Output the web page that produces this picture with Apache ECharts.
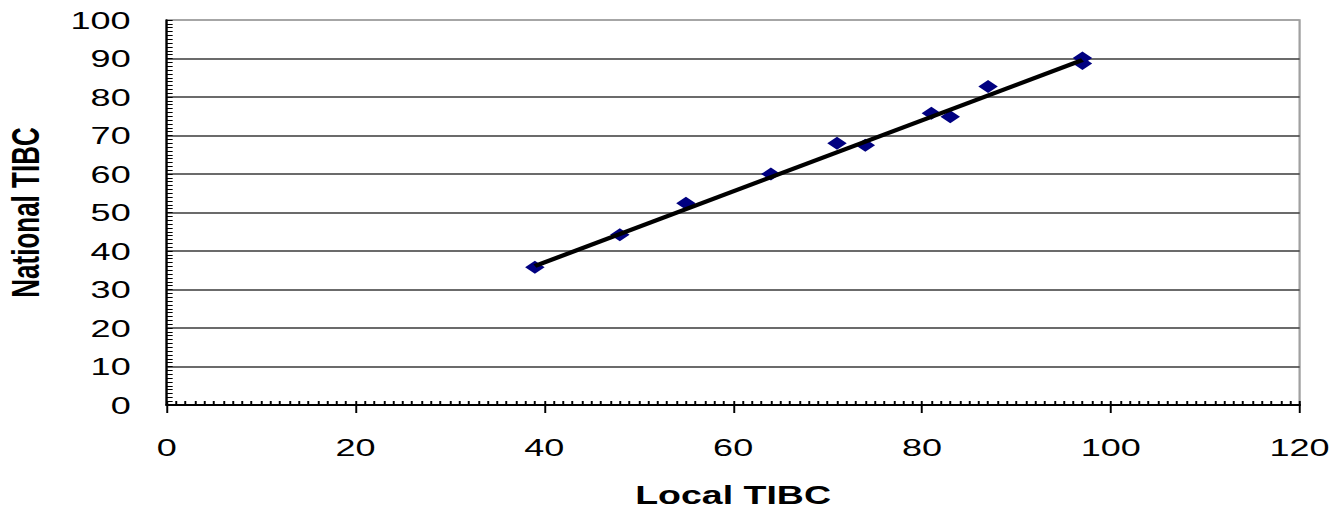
<!DOCTYPE html>
<html><head><meta charset="utf-8">
<script src="https://cdn.jsdelivr.net/npm/echarts@6/dist/echarts.min.js"></script>
<style>
html,body{margin:0;padding:0;background:#fff;overflow:hidden}
#wrap{width:1330px;height:509px;overflow:hidden;position:relative}
#chart{width:887px;height:509px;transform:scaleX(1.5);transform-origin:0 0}
</style></head><body><div id="wrap"><div id="chart"></div></div>
<script>
// Data
const localTIBC    = [39, 48, 55, 64, 71, 74, 81, 83, 87, 97, 97];
const nationalTIBC = [35.8, 44.2, 52.4, 60.0, 68.0, 67.5, 75.8, 74.9, 82.7, 90.1, 88.7];
const trendX = [39, 97];
const trendY = [36.1, 89.6];
const xTickValues = [0, 20, 40, 60, 80, 100, 120];
const yTickValues = [0, 10, 20, 30, 40, 50, 60, 70, 80, 90, 100];
const xTitle = 'Local TIBC';
const yTitle = 'National TIBC';

const points = localTIBC.map((x, i) => [x, nationalTIBC[i]]);
const trend = trendX.map((x, i) => [x, trendY[i]]);
const xMin = xTickValues[0], xMax = xTickValues[xTickValues.length - 1], xInt = xTickValues[1] - xTickValues[0];
const yMin = yTickValues[0], yMax = yTickValues[yTickValues.length - 1], yInt = yTickValues[1] - yTickValues[0];

const gridColors = yTickValues.map((v, i) => i === yTickValues.length - 1 ? '#a0a0a0' : '#3a3a3a');

const chart = echarts.init(document.getElementById('chart'), null, {renderer: 'svg'});
const font = 'Liberation Sans, Arial, sans-serif';
chart.setOption({
  animation: false,
  backgroundColor: '#ffffff',
  grid: {left: 111.1, top: 20, width: 755.3, height: 385, show: true, containLabel: false,
         outerBoundsMode: 'none',
         borderColor: '#a0a0a0', borderWidth: 1.5, backgroundColor: 'transparent'},
  xAxis: [{
    type: 'value', min: xMin, max: xMax, interval: xInt, position: 'bottom',
    name: xTitle, nameLocation: 'middle', nameGap: 78,
    nameTextStyle: {fontFamily: font, fontSize: 25, fontWeight: 'bold', color: '#000'},
    axisLine: {show: true, onZero: false, lineStyle: {color: '#000', width: 2}},
    axisTick: {show: true, inside: false, length: 8, lineStyle: {color: '#000', width: 1.3}},
    minorTick: {show: false},
    axisLabel: {fontFamily: font, fontSize: 24, color: '#000', margin: 30},
    splitLine: {show: false}
  }, {
    type: 'value', min: xMin, max: xMax, interval: xInt, position: 'bottom', gridIndex: 0,
    axisLine: {show: false, onZero: false},
    axisTick: {show: true, inside: true, length: 4, lineStyle: {color: '#000', width: 1.3}},
    minorTick: {show: true, splitNumber: 20, length: 4, lineStyle: {color: '#000', width: 1.3}},
    axisLabel: {show: false},
    splitLine: {show: false}
  }],
  yAxis: {
    type: 'value', min: yMin, max: yMax, interval: yInt,
    name: yTitle, nameLocation: 'middle', nameGap: 81,
    nameTextStyle: {fontFamily: font, fontSize: 26, fontWeight: 'bold', color: '#000'},
    axisLine: {show: true, onZero: false, lineStyle: {color: '#000', width: 1.5}},
    axisTick: {show: true, inside: true, length: 4, lineStyle: {color: '#000', width: 1}},
    minorTick: {show: true, splitNumber: 10, length: 4, lineStyle: {color: '#000', width: 1}},
    axisLabel: {fontFamily: font, fontSize: 24, color: '#000', margin: 24},
    splitLine: {show: true, lineStyle: {color: gridColors, width: 1.5}}
  },
  series: [{
    type: 'scatter', data: points, symbol: 'diamond', symbolSize: [13, 13],
    itemStyle: {color: '#000080', opacity: 1}, z: 2
  }, {
    type: 'line', data: trend, symbol: 'none', z: 3,
    lineStyle: {color: '#000', width: 4}
  }]
});
</script></body></html>
